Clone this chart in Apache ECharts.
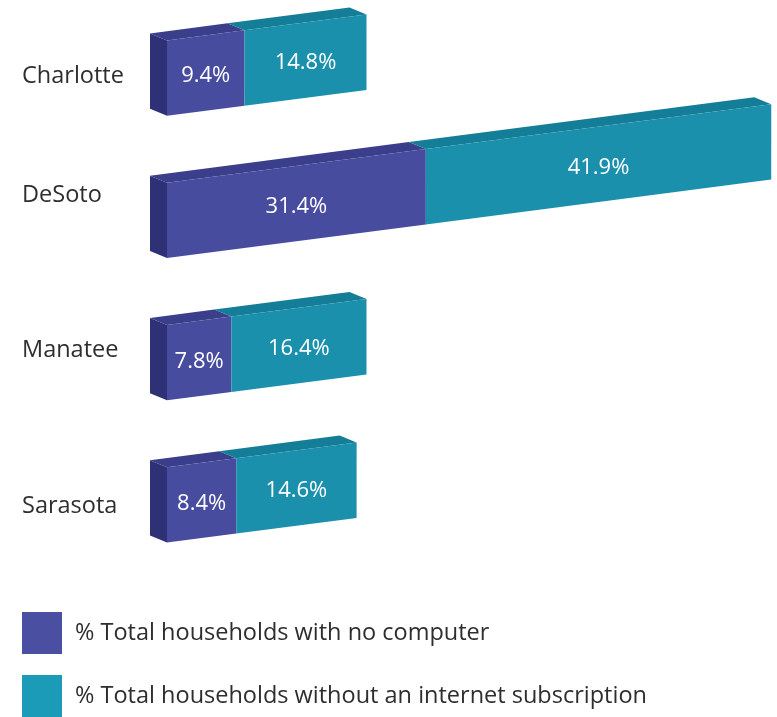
<!DOCTYPE html>
<html>
<head>
<meta charset="utf-8">
<script src="https://cdn.jsdelivr.net/npm/echarts@6/dist/echarts.min.js"></script>
<style>
  html, body { margin: 0; padding: 0; background: #ffffff; }
  #chart { width: 777px; height: 717px; }
</style>
</head>
<body>
<div id="chart"></div>
<script>
// Household access data by county
const counties = ['Charlotte', 'DeSoto', 'Manatee', 'Sarasota'];
const noComputer = [9.4, 31.4, 7.8, 8.4];
const noInternet = [14.8, 41.9, 16.4, 14.6];
const seriesNames = ['% Total households with no computer', '% Total households without an internet subscription'];

// Drawing style for the extruded bars
const FONT = '"Open Sans", Lato, sans-serif';
const SLOPE = 0.13;          // upward tilt of the bars to the right
const DEPTH = [-17, -7];     // extrusion offset (visible left + top faces)
const BAR_RATIO = 0.53;      // front-face height as share of the category band
const palette = {
  purple: { front: '#474c9f', top: '#3a3e8b', side: '#2e3176', legend: '#4a4fa2' },
  teal:   { front: '#1a90ac', top: '#147d97', side: '#10677d', legend: '#1b9bb7' }
};
// vertical nudge of the county names (px, negative = up)
const nameLift = [-2, -25, -12, 1];

function segmentData(startArr, lenArr) {
  return counties.map((c, i) => {
    const start = startArr ? startArr[i] : 0;
    return [start, start + lenArr[i], i, lenArr[i]];
  });
}

function makeRenderer(colors) {
  return function (params, api) {
    const start = api.value(0), end = api.value(1), cat = api.value(2), val = api.value(3);
    const origin = api.coord([0, cat]);
    const p0 = api.coord([start, cat]);
    const p1 = api.coord([end, cat]);
    const h = api.size([0, 1])[1] * BAR_RATIO;
    const shift = x => -SLOPE * (x - origin[0]);
    const TL = [p0[0], p0[1] - h / 2 + shift(p0[0])];
    const BL = [p0[0], p0[1] + h / 2 + shift(p0[0])];
    const TR = [p1[0], p1[1] - h / 2 + shift(p1[0])];
    const BR = [p1[0], p1[1] + h / 2 + shift(p1[0])];
    const add = (p) => [p[0] + DEPTH[0], p[1] + DEPTH[1]];
    const children = [];
    children.push({
      type: 'polygon',
      shape: { points: [TL, TR, add(TR), add(TL)] },
      style: { fill: colors.top }
    });
    if (start === 0) {
      children.push({
        type: 'polygon',
        shape: { points: [TL, BL, add(BL), add(TL)] },
        style: { fill: colors.side }
      });
    }
    children.push({
      type: 'polygon',
      shape: { points: [TL, TR, BR, BL] },
      style: { fill: colors.front }
    });
    const cx = (p0[0] + p1[0]) / 2;
    children.push({
      type: 'text',
      x: cx,
      y: p0[1] + shift(cx) + 3,
      style: {
        text: val.toFixed(1) + '%',
        fill: '#ffffff',
        font: '22px ' + FONT,
        align: 'center',
        verticalAlign: 'middle'
      }
    });
    return { type: 'group', children: children };
  };
}

const rich = {};
nameLift.forEach((d, i) => {
  rich['c' + i] = {
    color: '#2e2e2e',
    fontSize: 23.5,
    fontFamily: FONT,
    padding: d < 0 ? [0, 0, -2 * d, 0] : [2 * d, 0, 0, 0]
  };
});

function legendBlock(name, top) {
  return {
    orient: 'vertical',
    left: 17,
    top: top,
    itemWidth: 40,
    itemHeight: 42,
    icon: 'rect',
    selectedMode: false,
    textStyle: { color: '#2e2e2e', fontSize: 23.5, fontFamily: FONT, padding: [0, 0, 0, 8] },
    data: [name]
  };
}

const chart = echarts.init(document.getElementById('chart'), null, { renderer: 'canvas' });
chart.setOption({
  backgroundColor: '#ffffff',
  animation: false,
  grid: { left: 167, right: 0, top: 7, bottom: 141 },
  xAxis: {
    type: 'value', min: 0, max: 74,
    show: false
  },
  yAxis: {
    type: 'category',
    data: counties,
    inverse: true,
    axisLine: { show: false },
    axisTick: { show: false },
    splitLine: { show: false },
    axisLabel: {
      align: 'left',
      margin: 145,
      formatter: (v, i) => '{c' + i + '|' + v + '}',
      rich: rich
    }
  },
  legend: [legendBlock(seriesNames[0], 607), legendBlock(seriesNames[1], 670)],
  series: [
    {
      name: seriesNames[0],
      type: 'custom',
      itemStyle: { color: palette.purple.legend },
      renderItem: makeRenderer(palette.purple),
      encode: { x: [0, 1], y: 2 },
      data: segmentData(null, noComputer)
    },
    {
      name: seriesNames[1],
      type: 'custom',
      itemStyle: { color: palette.teal.legend },
      renderItem: makeRenderer(palette.teal),
      encode: { x: [0, 1], y: 2 },
      data: segmentData(noComputer, noInternet)
    }
  ]
});
</script>
</body>
</html>
